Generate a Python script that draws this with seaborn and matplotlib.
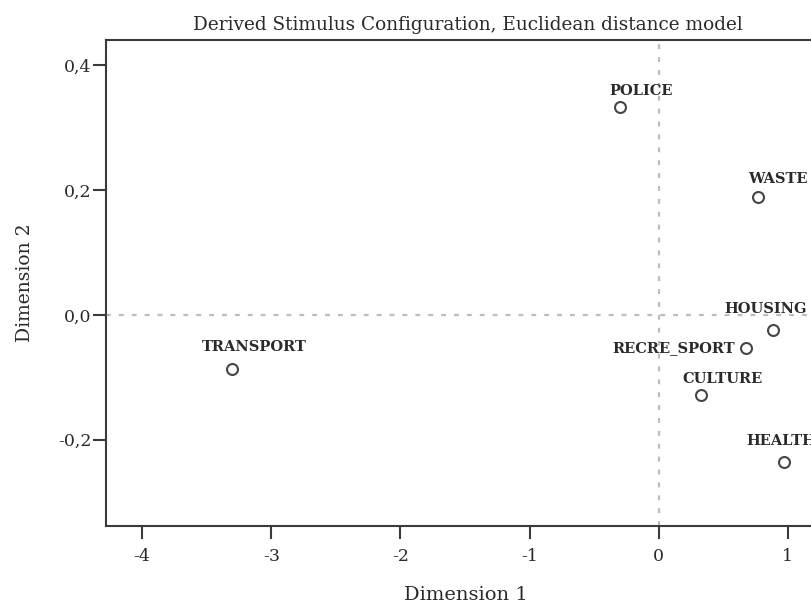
import matplotlib
matplotlib.use("Agg")
import matplotlib.pyplot as plt
import seaborn as sns
import pandas as pd

# Data
labels = ["POLICE", "WASTE", "HOUSING", "RECRE_SPORT", "CULTURE", "HEALTH", "TRANSPORT"]
dim1 = [-0.302, 0.767, 0.884, 0.674, 0.326, 0.969, -3.302]
dim2 = [0.333, 0.188, -0.024, -0.053, -0.129, -0.235, -0.087]
x_ticks = [-4, -3, -2, -1, 0, 1]
y_ticks = [-0.2, 0.0, 0.2, 0.4]
y_tick_labels = ["-0,2", "0,0", "0,2", "0,4"]

# label offsets in pixels (dx, dy up) and horizontal alignment -- styling only
offsets = {"POLICE": (-10, 12, "left"),
           "WASTE": (-10, 14, "left"),
           "HOUSING": (-49, 17, "left"),
           "RECRE_SPORT": (-11, -4, "right"),
           "CULTURE": (-18, 12, "left"),
           "HEALTH": (-38, 17, "left"),
           "TRANSPORT": (-30, 18, "left")}

df = pd.DataFrame({"label": labels, "Dimension 1": dim1, "Dimension 2": dim2})

sns.set_style("white")
plt.rcParams["font.family"] = ["DejaVu Serif"]

W, H = 812, 604
fig = plt.figure(figsize=(W / 100, H / 100), dpi=100)
L, R, T, B = 106, 826, 40, 526
ax = fig.add_axes([L / W, 1 - B / H, (R - L) / W, (B - T) / H])

ax.axhline(0, color="#bdbdbd", lw=1.6, ls=(0, (2.2, 3.6)), zorder=1)
ax.axvline(0, color="#bdbdbd", lw=1.6, ls=(0, (2.2, 3.6)), zorder=1)

sns.scatterplot(data=df, x="Dimension 1", y="Dimension 2", ax=ax, marker="o",
                s=62, facecolor="white", edgecolor="#454545", linewidth=1.5, zorder=3)

for lab, x, y in zip(labels, dim1, dim2):
    dx, dy, ha = offsets[lab]
    ax.annotate(lab, (x, y), xytext=(dx, dy), textcoords="offset pixels",
                ha=ha, va="baseline", fontsize=10.5, fontweight="bold",
                family=["DejaVu Serif"], color="#2a2a2a", zorder=4)

ax.set_xlim(-4.28, 1.295)
ax.set_ylim(-0.338, 0.44)
ax.set_xticks(x_ticks)
ax.set_xticklabels([str(t) for t in x_ticks])
ax.set_yticks(y_ticks)
ax.set_yticklabels(y_tick_labels)
ax.tick_params(axis="both", direction="out", length=9.5, width=1.5, color="#3a3a3a",
               labelsize=12.5, labelcolor="#2a2a2a", bottom=True, left=True)
ax.tick_params(axis="x", pad=6)
ax.tick_params(axis="y", pad=1)
for sp in ax.spines.values():
    sp.set_color("#3a3a3a")
    sp.set_linewidth(1.5)

ax.set_xlabel("Dimension 1", fontsize=14, color="#2a2a2a")
ax.xaxis.label.set_va("baseline")
ax.xaxis.set_label_coords(0.5, (B - 600) / (B - T))
ax.set_ylabel("Dimension 2", fontsize=13.5, color="#2a2a2a")
ax.yaxis.label.set_va("center")
ax.yaxis.set_label_coords((25 - L) / (R - L), 0.5)

fig.text((183 + 752) / 2 / W, 1 - 30 / H, "Derived Stimulus Configuration, Euclidean distance model",
         ha="center", va="baseline", fontsize=13.3, color="#2a2a2a")

fig.savefig("out.png", dpi=100)
